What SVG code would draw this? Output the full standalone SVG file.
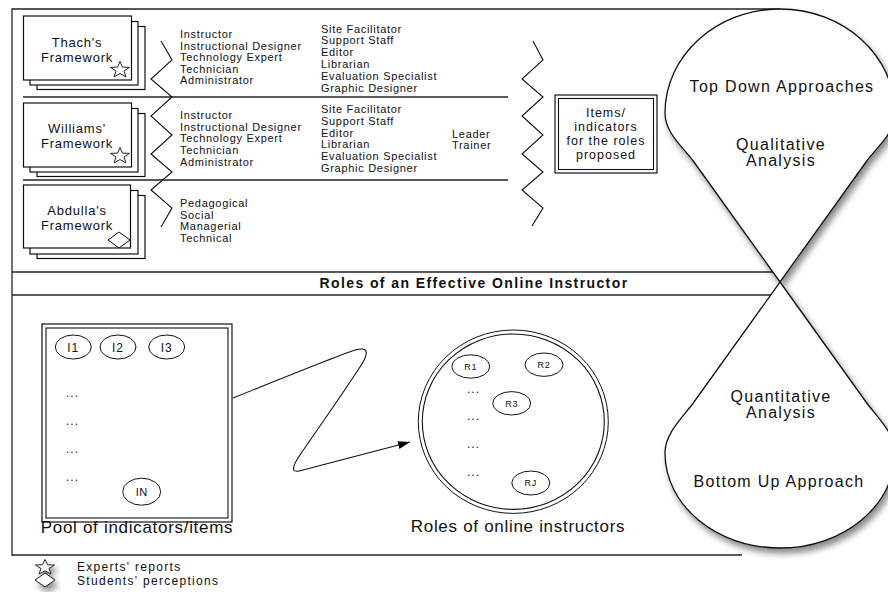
<svg xmlns="http://www.w3.org/2000/svg" width="888" height="599" viewBox="0 0 888 599">
<defs>
<style>
text{font-family:"Liberation Sans",Arial,Helvetica,sans-serif;fill:#111}
.fw{font-size:13px;letter-spacing:0.8px;text-anchor:middle}
.c{font-size:11px;letter-spacing:0.7px}
.it{font-size:12.5px;letter-spacing:1px;text-anchor:middle}
.box{fill:#fff;stroke:#111;stroke-width:1.2}
.in{fill:none;stroke:#111;stroke-width:1.1}
.ln{stroke:#222;stroke-width:1.3;fill:none}
.zz{stroke:#111;stroke-width:1.1;fill:none}
.drop{fill:#fff;stroke:#111;stroke-width:1.3;filter:url(#sh)}
.dt{font-size:16px;letter-spacing:1.3px;text-anchor:middle}
.sym{fill:#fff;stroke:#111;stroke-width:1}
.el{fill:#fff;stroke:#111;stroke-width:1}
.il{font-size:12px;letter-spacing:1px;text-anchor:middle}
.rl{font-size:9px;letter-spacing:0.8px;text-anchor:middle}
.dots{font-size:12px;letter-spacing:1px}
.cap{font-size:17px;letter-spacing:0.7px;text-anchor:middle}
.lg{font-size:12px;letter-spacing:1.3px}
</style>
<filter id="sh" x="-20%" y="-20%" width="150%" height="150%"><feDropShadow dx="3" dy="5" stdDeviation="3" flood-color="#000" flood-opacity="0.45"/></filter>
<path id="star" d="M0,-10 L2.47,-3.4 L9.51,-3.09 L3.99,1.3 L5.88,8.09 L0,4.2 L-5.88,8.09 L-3.99,1.3 L-9.51,-3.09 L-2.47,-3.4 Z"/>
<marker id="arr" markerWidth="14" markerHeight="10" refX="12" refY="4" orient="auto" markerUnits="userSpaceOnUse"><path d="M0,0 L12,4 L0,8 Z" fill="#000"/></marker>
</defs>
<rect width="888" height="599" fill="#fff"/>

<g id="frame">
<path class="ln" d="M780,9 H12 V555 H742"/>
<line class="ln" x1="23" y1="97" x2="508" y2="97"/>
<line class="ln" x1="23" y1="180" x2="508" y2="180"/>
<line class="ln" x1="12" y1="272" x2="780" y2="272"/>
<line class="ln" x1="12" y1="295" x2="780" y2="295"/>
<text x="474" y="288" style="font-size:14px;font-weight:bold;letter-spacing:1.4px;text-anchor:middle">Roles of an Effective Online Instructor</text>
</g>

<g id="thach">
<rect class="box" x="37" y="26.5" width="108" height="63"/>
<rect class="box" x="30" y="21.5" width="108" height="63.5"/>
<rect class="box" x="23.5" y="16" width="108" height="64"/>
<text class="fw" x="77" y="46.5">Thach's</text>
<text class="fw" x="77" y="61.5">Framework</text>
<use href="#star" class="sym" transform="translate(120,70) scale(1,0.85)"/>
</g>

<g id="williams">
<rect class="box" x="37" y="113.5" width="108" height="63"/>
<rect class="box" x="30" y="108.5" width="108" height="63.5"/>
<rect class="box" x="23.5" y="103" width="108" height="64"/>
<text class="fw" x="77" y="133">Williams'</text>
<text class="fw" x="77" y="147.5">Framework</text>
<use href="#star" class="sym" transform="translate(120,156) scale(1,0.85)"/>
</g>

<g id="abdulla">
<rect class="box" x="37" y="195.5" width="108" height="63"/>
<rect class="box" x="30" y="190.5" width="108" height="63.5"/>
<rect class="box" x="23.5" y="185" width="107" height="63"/>
<text class="fw" x="77" y="215">Abdulla's</text>
<text class="fw" x="77" y="230">Framework</text>
<path class="sym" d="M119,232 L130,240 L119,248 L108,240 Z"/>
</g>

<g id="thach-roles">
<text class="c" x="180" y="38">Instructor</text>
<text class="c" x="180" y="49.6">Instructional Designer</text>
<text class="c" x="180" y="61.2">Technology Expert</text>
<text class="c" x="180" y="72.8">Technician</text>
<text class="c" x="180" y="84.4">Administrator</text>
<text class="c" x="321" y="32.5">Site Facilitator</text>
<text class="c" x="321" y="44.3">Support Staff</text>
<text class="c" x="321" y="56.1">Editor</text>
<text class="c" x="321" y="67.9">Librarian</text>
<text class="c" x="321" y="79.7">Evaluation Specialist</text>
<text class="c" x="321" y="91.5">Graphic Designer</text>
</g>

<g id="williams-roles">
<text class="c" x="180" y="119">Instructor</text>
<text class="c" x="180" y="130.7">Instructional Designer</text>
<text class="c" x="180" y="142.4">Technology Expert</text>
<text class="c" x="180" y="154.1">Technician</text>
<text class="c" x="180" y="165.8">Administrator</text>
<text class="c" x="321" y="113">Site Facilitator</text>
<text class="c" x="321" y="124.8">Support Staff</text>
<text class="c" x="321" y="136.6">Editor</text>
<text class="c" x="321" y="148.4">Librarian</text>
<text class="c" x="321" y="160.2">Evaluation Specialist</text>
<text class="c" x="321" y="172">Graphic Designer</text>
<text class="c" x="452" y="137.7">Leader</text>
<text class="c" x="452" y="149.3">Trainer</text>
</g>

<g id="abdulla-roles">
<text class="c" x="180" y="207">Pedagogical</text>
<text class="c" x="180" y="218.7">Social</text>
<text class="c" x="180" y="230.4">Managerial</text>
<text class="c" x="180" y="242">Technical</text>
</g>

<g id="items">
<rect class="box" x="555" y="95" width="102" height="78"/>
<rect class="in" x="558.5" y="98.5" width="95" height="71"/>
<text class="it" x="606" y="117">Items/</text>
<text class="it" x="606" y="131">indicators</text>
<text class="it" x="606" y="145">for the roles</text>
<text class="it" x="606" y="158.5">proposed</text>
</g>

<g id="top-drop">
<path class="drop" d="M780,282 L694,162 C683,147 665,133 665,113 C665,55.6 716.5,9 780,9 C843.5,9 895,55.6 895,113 C895,133 877,147 866,162 Z"/>
<text class="dt" x="782" y="92">Top Down Approaches</text>
<text class="dt" x="781" y="150">Qualitative</text>
<text class="dt" x="781" y="166">Analysis</text>
</g>

<g id="bottom-drop">
<path class="drop" d="M780,282 L866,402 C877,417 895,433 895,453 C895,505.5 843.5,548 780,548 C716.5,548 665,505.5 665,453 C665,433 683,417 694,402 Z"/>
<text class="dt" x="781" y="402">Quantitative</text>
<text class="dt" x="781" y="418">Analysis</text>
<text class="dt" x="779" y="487">Bottom Up Approach</text>
</g>

<g id="pool">
<rect class="box" x="42" y="324" width="190" height="198"/>
<rect class="in" x="46" y="328" width="182" height="190"/>
<ellipse class="el" cx="73.3" cy="347" rx="18" ry="12"/>
<ellipse class="el" cx="118" cy="347" rx="18" ry="12"/>
<ellipse class="el" cx="166.7" cy="347" rx="18" ry="12"/>
<text class="il" x="73.3" y="351.5">I1</text>
<text class="il" x="118" y="351.5">I2</text>
<text class="il" x="166.7" y="351.5">I3</text>
<text class="dots" x="66" y="397">...</text>
<text class="dots" x="66" y="425">...</text>
<text class="dots" x="66" y="453">...</text>
<text class="dots" x="66" y="481">...</text>
<ellipse class="el" cx="141.7" cy="491.7" rx="19" ry="13.5"/>
<text x="141.7" y="495.5" style="font-size:11px;letter-spacing:0.5px;text-anchor:middle">IN</text>
<text class="cap" x="137" y="533">Pool of indicators/items</text>
</g>

<g id="roles">
<ellipse class="el" cx="513.3" cy="421.7" rx="95" ry="91.7"/>
<ellipse class="in" cx="513.3" cy="421.7" rx="91" ry="87.7"/>
<ellipse class="el" cx="470.8" cy="366.5" rx="19" ry="11.7"/>
<ellipse class="el" cx="544" cy="364.7" rx="19" ry="11.7"/>
<ellipse class="el" cx="511.7" cy="403.3" rx="19" ry="11.7"/>
<ellipse class="el" cx="530.8" cy="483" rx="19" ry="12"/>
<text class="rl" x="470.8" y="369.8">R1</text>
<text class="rl" x="544" y="368">R2</text>
<text class="rl" x="511.7" y="406.6">R3</text>
<text class="rl" x="530.8" y="486.3">RJ</text>
<text class="dots" x="467" y="393.3">...</text>
<text class="dots" x="467" y="420">...</text>
<text class="dots" x="467" y="448.3">...</text>
<text class="dots" x="467" y="476">...</text>
<text class="cap" x="518" y="532">Roles of online instructors</text>
</g>

<g id="connectors">
<path class="zz" d="M161,41 L172,60 L151,79 L172,97 L151,116 L172,135 L151,154 L172,172 L151,190 L172,208 L161,227"/>
<path class="zz" d="M533,41 L543,60 L522,79 L543,97 L522,116 L543,135 L522,154 L543,172 L522,190 L543,208 L532,226"/>
<path fill="none" stroke="#111" stroke-width="1.1" marker-end="url(#arr)" d="M233,398 C290,375 335,357 352,351 C372,344 368,356 358,370 C335,405 310,440 298,458 C290,471 293,473 303,470 L410,442"/>
</g>

<g id="legend">
<use href="#star" class="sym" style="filter:url(#sh)" transform="translate(45,567.5) scale(1,0.8)"/>
<text class="lg" x="77" y="571">Experts' reports</text>
<path class="sym" style="filter:url(#sh)" d="M45,573 L55,580 L45,587 L35,580 Z"/>
<text class="lg" x="77" y="584.5">Students' perceptions</text>
</g>
</svg>
